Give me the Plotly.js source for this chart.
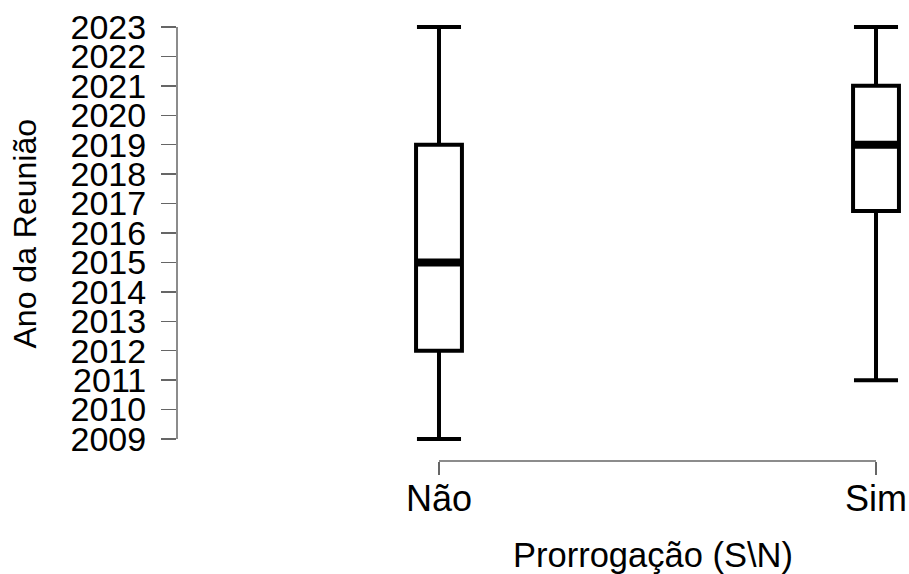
<!DOCTYPE html>
<html>
<head>
<meta charset="utf-8">
<script src="https://cdn.plot.ly/plotly-3.0.1.min.js"></script>
<style>html,body{margin:0;padding:0;background:#fff;}#chart{width:909px;height:574px;}</style>
</head>
<body>
<div id="chart"></div>
<script>
const categories = ["Não", "Sim"];
const lowerWhisker = [2009, 2011];
const q1 = [2012, 2016.75];
const median = [2015, 2019];
const q3 = [2019, 2021];
const upperWhisker = [2023, 2023];
const yTicks = [2009, 2010, 2011, 2012, 2013, 2014, 2015, 2016, 2017, 2018, 2019, 2020, 2021, 2022, 2023];
const xTitle = "Prorrogação (S\\N)";
const yTitle = "Ano da Reunião";

const boxWidth = 0.105;
const font = "Liberation Sans, Arial, sans-serif";
const axisColor = "#666";

const trace = {
  type: "box",
  x: categories,
  q1: q1,
  median: median,
  q3: q3,
  lowerfence: lowerWhisker,
  upperfence: upperWhisker,
  boxpoints: false,
  width: boxWidth,
  whiskerwidth: 0.96,
  fillcolor: "#ffffff",
  line: {color: "#000000", width: 4},
  hoverinfo: "skip",
  showlegend: false
};

const shapes = [
  {type: "line", xref: "paper", x0: 0, x1: 0, yref: "y", y0: yTicks[0], y1: yTicks[yTicks.length - 1],
   line: {color: axisColor, width: 1.5}},
  {type: "line", xref: "x", x0: 0, x1: categories.length - 1, yref: "paper", y0: 0, y1: 0,
   line: {color: axisColor, width: 1.5}}
];
categories.forEach((c, i) => {
  shapes.push({type: "line", xref: "x", yref: "y", x0: i - boxWidth / 2, x1: i + boxWidth / 2,
    y0: median[i], y1: median[i], line: {color: "#000000", width: 8}});
});

const layout = {
  width: 909, height: 574,
  margin: {l: 177, r: 0, t: 10, b: 113},
  paper_bgcolor: "#ffffff", plot_bgcolor: "#ffffff",
  font: {family: font, color: "#000000"},
  showlegend: false,
  xaxis: {
    type: "category",
    range: [-0.5995, 1.0755],
    showline: false, showgrid: false, zeroline: false,
    ticks: "outside", ticklen: 13, tickwidth: 1.5, tickcolor: axisColor,
    tickfont: {family: font, size: 36, color: "#000000"},
    ticklabelstandoff: -7
  },
  yaxis: {
    range: [2008.2525, 2023.578],
    tickvals: yTicks,
    ticktext: yTicks.map(String),
    showline: false, showgrid: false, zeroline: false,
    ticks: "outside", ticklen: 15, tickwidth: 1.5, tickcolor: axisColor,
    tickfont: {family: font, size: 34, color: "#000000"},
    ticklabelstandoff: 8
  },
  shapes: shapes,
  annotations: [
    {text: xTitle, xref: "x", x: 0.49, yref: "paper", y: -0.208, yanchor: "middle", xanchor: "center",
     showarrow: false, font: {family: font, size: 34.5, color: "#000000"}},
    {text: yTitle, xref: "paper", x: -0.207, yref: "y", y: 2016, xanchor: "center", yanchor: "middle",
     textangle: -90, showarrow: false, font: {family: font, size: 32, color: "#000000"}}
  ]
};

Plotly.newPlot("chart", [trace], layout, {displayModeBar: false, staticPlot: true});
</script>
</body>
</html>
